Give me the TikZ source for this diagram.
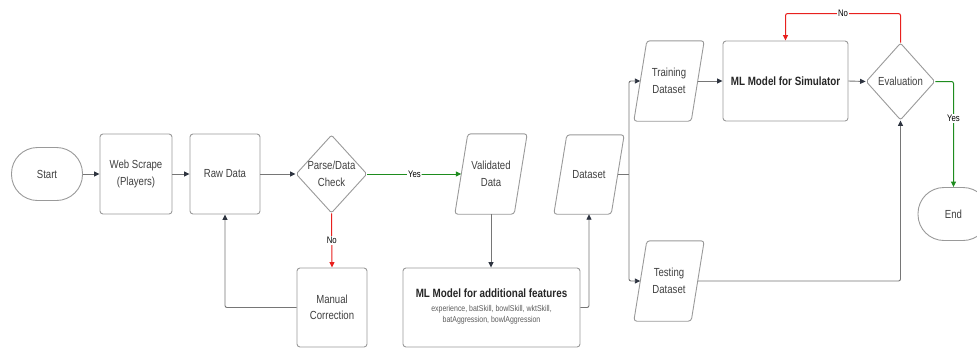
\documentclass[tikz,border=0pt]{standalone}
\usepackage{fontspec}
\setmainfont{Liberation Sans}[FakeStretch=0.82]
\usetikzlibrary{shapes.geometric,arrows.meta}
\definecolor{bordc}{HTML}{9A9A9A}
\definecolor{linec}{HTML}{767676}
\definecolor{headc}{HTML}{2E3440}
\definecolor{txtc}{HTML}{404040}
\definecolor{grn}{HTML}{1E8C1E}
\definecolor{rd}{HTML}{E8201E}
\tikzset{
  box/.style={draw=bordc, line width=0.9pt, rounded corners=3pt, fill=white, text=txtc,
    align=center, font=\fontsize{11.7}{16.5}\selectfont, inner sep=0pt},
  proc/.style={box, minimum width=72pt, minimum height=80pt},
  pcore/.style={text=txtc, align=center, font=\fontsize{11.7}{16.5}\selectfont, inner sep=0pt,
    minimum width=59pt, minimum height=80pt},
  pline/.style={draw=bordc, line width=0.9pt, rounded corners=3pt},
  dia/.style={box, diamond, rounded corners=2pt},
  term/.style={box, rounded corners=26pt, minimum width=71pt, minimum height=53pt},
  plain/.style={text=txtc, align=center, font=\fontsize{11.7}{16.5}\selectfont, inner sep=0pt},
  arr/.style={draw=linec, line width=0.9pt, rounded corners=2pt, -{Triangle[length=5.5pt,width=5pt,fill=headc,color=headc]}},
  arrG/.style={draw=grn, line width=1pt, rounded corners=2pt, -{Triangle[length=5.5pt,width=5pt,fill=grn,color=grn]}},
  arrR/.style={draw=rd, line width=1pt, rounded corners=2pt, -{Triangle[length=5.5pt,width=5pt,fill=rd,color=rd]}},
  ln/.style={draw=linec, line width=0.9pt, rounded corners=2pt},
  lbl/.style={fill=white, inner sep=1pt, text=black, font=\fontsize{9.5}{10}\selectfont},
}
% parallelogram outline around a named core node: slant 6.5pt each side
\newcommand{\paraoutline}[1]{%
  \draw[pline] ([xshift=6.5pt]#1.north west) -- ([xshift=6.5pt]#1.north east)
    -- ([xshift=-6.5pt]#1.south east) -- ([xshift=-6.5pt]#1.south west) -- cycle;}
\begin{document}
\begin{tikzpicture}[x=1pt,y=-1pt]
\useasboundingbox (0,0) rectangle (977,349);
\clip (0,0) rectangle (977,349);
\fill[white] (0,0) rectangle (977,349);

% nodes
\node[term] (start) at (47,174) {Start};
\node[proc] (ws) at (136,174) {Web Scrape\\(Players)};
\node[proc, minimum width=70pt] (raw) at (225,174) {Raw Data};
\node[dia, minimum width=71pt, minimum height=78pt] (pc) at (331.5,174) {};
\node[plain] (pctext) at (pc) {Parse/Data\\Check};
\node[pcore] (val) at (491,174) {Validated\\Data};
\paraoutline{val}
\node[proc, minimum width=70pt, minimum height=79pt] (mc) at (332,307.5) {Manual\\Correction};
\node[proc, minimum width=177pt, minimum height=79pt] (mlf) at (491.5,307.5) {};
\node[plain, text=black!85, font=\bfseries\fontsize{12}{14}\selectfont] (mlftitle) at (491.5,293) {ML Model for additional features};
\node[plain, text=txtc!85, font=\fontsize{8.5}{11}\selectfont] (mlfsub) at (491.5,315) {experience, batSkill, bowlSkill, wktSkill,\\batAggression, bowlAggression};
\node[pcore, minimum width=57pt, minimum height=79pt] (ds) at (589,174.5) {Dataset};
\paraoutline{ds}
\coordinate (br) at (629,174.5);
\node[pcore, minimum width=57pt] (train) at (669,81) {Training\\Dataset};
\paraoutline{train}
\node[pcore, minimum width=57pt] (test) at (669,281) {Testing\\Dataset};
\paraoutline{test}
\node[proc, minimum width=125pt] (mls) at (785.5,81) {};
\node[plain, text=black!85, font=\bfseries\fontsize{12}{14}\selectfont] (mlstext) at (mls) {ML Model for Simulator};
\node[dia, minimum width=69pt, minimum height=77pt] (ev) at (900.5,81.5) {};
\node[plain] (evtext) at (ev) {Evaluation};
\node[term] (end) at (953.5,214) {End};

% connectors
\draw[arr] (start) -- (ws);
\draw[arr] (ws) -- (raw);
\draw[arr] (raw) -- (pc);
\draw[arrG] (pc) -- node[lbl, pos=0.5] {Yes} (val);
\draw[arrR] (pc.south) -- node[lbl] {No} (mc.north);
\draw[arr] (mc.west) -| (raw.south);
\draw[arr] (val.south) -- (val.south |- mlf.north);
\draw[arr] (mlf.east) -| (ds.south);
\draw[ln] (ds.east) -- (br);
\draw[arr] (br) |- (train.west);
\draw[arr] (br) |- (test.west);
\draw[arr] (train.east) -- (mls.west);
\draw[arr] (mls.east) -- (ev.west);
\draw[arrR] (ev.north) -- ++(0,-29) -| node[lbl, pos=0.25] {No} (mls.north);
\draw[arrG] (ev.east) -| node[lbl, pos=0.675] {Yes} (end.north);
\draw[arr] (test.east) -| (ev.south);
\end{tikzpicture}
\end{document}
